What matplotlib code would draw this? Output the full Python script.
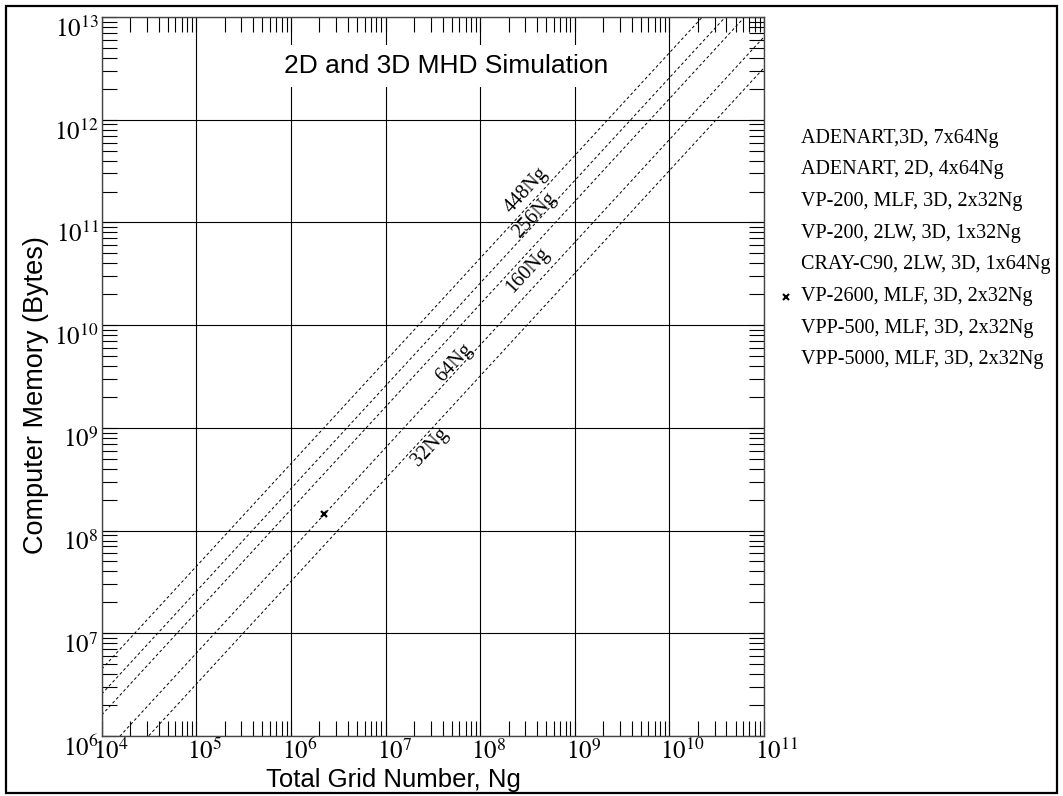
import math
import numpy as np
import matplotlib
matplotlib.use("Agg")
import matplotlib.pyplot as plt
from matplotlib import transforms as mtrans
from matplotlib.lines import Line2D
from matplotlib.patches import Rectangle
from matplotlib.ticker import LogLocator, NullFormatter

plt.rcParams["mathtext.fontset"] = "stix"

# ---- data -------------------------------------------------------------
ng_span = np.array([1e4, 1e11])                 # total grid number range
memory_factors = [448, 256, 160, 64, 32]        # bytes per grid point
factor_labels = ["448Ng", "256Ng", "160Ng", "64Ng", "32Ng"]

x_decades = list(range(4, 12))                  # 10^4 .. 10^11
y_decades = list(range(6, 14))                  # 10^6 .. 10^13

legend_labels = [
    "ADENART,3D, 7x64Ng",
    "ADENART, 2D, 4x64Ng",
    "VP-200, MLF, 3D, 2x32Ng",
    "VP-200, 2LW, 3D, 1x32Ng",
    "CRAY-C90, 2LW, 3D, 1x64Ng",
    "VP-2600, MLF, 3D, 2x32Ng",
    "VPP-500, MLF, 3D, 2x32Ng",
    "VPP-5000, MLF, 3D, 2x32Ng",
]

vp2600_ng = [2.26e6]
vp2600_mem = [1.45e8]

# ---- layout -----------------------------------------------------------
W, H, DPI = 1063, 796, 100
# label anchors (log10 Ng, log10 memory) for the factor lines
label_anchor = [(8.491, 11.316), (8.576, 11.073), (8.502, 10.537),
                (7.731, 9.632), (7.467, 8.814)]

SERIF = "Liberation Serif"
SANS = "Liberation Sans"

fig = plt.figure(figsize=(W / DPI, H / DPI), dpi=DPI)
ax_l, ax_r, ax_t, ax_b = 101.7, 764.0, 17.0, 736.0
ax = fig.add_axes([ax_l / W, 1 - ax_b / H, (ax_r - ax_l) / W, (ax_b - ax_t) / H])
ax.set_xscale("log")
ax.set_yscale("log")
ax.set_xlim(1e4, 1e11)
ax.set_ylim(1e6, 1e13)

ax.xaxis.set_major_locator(LogLocator(base=10, numticks=30))
ax.yaxis.set_major_locator(LogLocator(base=10, numticks=30))
ax.xaxis.set_minor_locator(LogLocator(base=10, subs=np.arange(2, 10), numticks=30))
ax.yaxis.set_minor_locator(LogLocator(base=10, subs=np.arange(2, 10), numticks=30))
ax.xaxis.set_major_formatter(NullFormatter())
ax.yaxis.set_major_formatter(NullFormatter())
ax.xaxis.set_minor_formatter(NullFormatter())
ax.yaxis.set_minor_formatter(NullFormatter())
ax.tick_params(which="both", direction="in", top=True, right=True,
               length=10.5, width=0.8, color="black")
ax.grid(True, which="major", color="black", linewidth=0.8)
for sp in ax.spines.values():
    sp.set_color("#444444")
    sp.set_linewidth(1.0)

# factor lines
for k in memory_factors:
    ax.plot(ng_span, k * ng_span, color="black", linewidth=0.7,
            linestyle=(0, (3, 2.5)), zorder=2)

# slope angle of the lines on screen
p0 = ax.transData.transform((1e5, 1e7))
p1 = ax.transData.transform((1e9, 1e11))
angle = math.degrees(math.atan2(p1[1] - p0[1], p1[0] - p0[0]))

for lab, (lx, ly) in zip(factor_labels, label_anchor):
    ax.text(10 ** lx, 10 ** ly, lab, rotation=angle, rotation_mode="anchor",
            ha="center", va="center", fontsize=14.5, family=SERIF, zorder=4)

# measured point
ax.plot(vp2600_ng, vp2600_mem, linestyle="none", marker="x", color="black",
        markersize=5, markeredgewidth=1.6, zorder=5)

# tick labels
xt = mtrans.offset_copy(mtrans.blended_transform_factory(ax.transData, ax.transAxes),
                        fig=fig, x=-9 * 0.72, y=-3 * 0.72, units="points")
for e in x_decades:
    ax.text(10 ** e, 0, r"$10^{%d}$" % e, transform=xt, ha="left", va="top",
            fontsize=18, clip_on=False)
yt = mtrans.offset_copy(mtrans.blended_transform_factory(ax.transAxes, ax.transData),
                        fig=fig, x=-3 * 0.72, y=0.5 * 0.72, units="points")
for e in y_decades:
    ax.text(0, 10 ** e, r"$10^{%d}$" % e, transform=yt, ha="right", va="top",
            fontsize=18, clip_on=False)

# title inside the plot
ax.text((446.5 - ax_l) / (ax_r - ax_l), (ax_b - 66) / (ax_b - ax_t),
        "2D and 3D MHD Simulation", transform=ax.transAxes, ha="center",
        va="center", fontsize=19, family=SANS,
        bbox=dict(facecolor="white", edgecolor="none", pad=6.5), zorder=6)

# axis labels
fig.text(393 / W, 1 - 787 / H, "Total Grid Number, Ng", ha="center",
         va="baseline", fontsize=18.5, family=SANS)
fig.text(36.5 / W, 1 - 395 / H, "Computer Memory (Bytes)", rotation=90,
         ha="center", va="center", fontsize=19.5, family=SANS)

# legend
clip = mtrans.TransformedBbox(mtrans.Bbox.from_extents(0, 0, 1056 / W, 1),
                              fig.transFigure)
leg_x, leg_y0, leg_dy = 801, 138, 31.7
for i, lab in enumerate(legend_labels):
    t = fig.text(leg_x / W, 1 - (leg_y0 + i * leg_dy) / H, lab, ha="left",
                 va="center", fontsize=14.5, family=SERIF)
    t.set_clip_box(clip)
    t.set_clip_on(True)
mark_row = legend_labels.index("VP-2600, MLF, 3D, 2x32Ng")
fig.add_artist(Line2D([786 / W], [1 - (leg_y0 + mark_row * leg_dy) / H],
                      transform=fig.transFigure, linestyle="none", marker="x",
                      color="black", markersize=4, markeredgewidth=1.5))

# outer frame
fig.add_artist(Rectangle((6 / W, 1 - 793 / H), (1057 - 6) / W, (793 - 6) / H,
                         transform=fig.transFigure, fill=False,
                         edgecolor="black", linewidth=1.6))

fig.savefig("out.png", dpi=DPI)
